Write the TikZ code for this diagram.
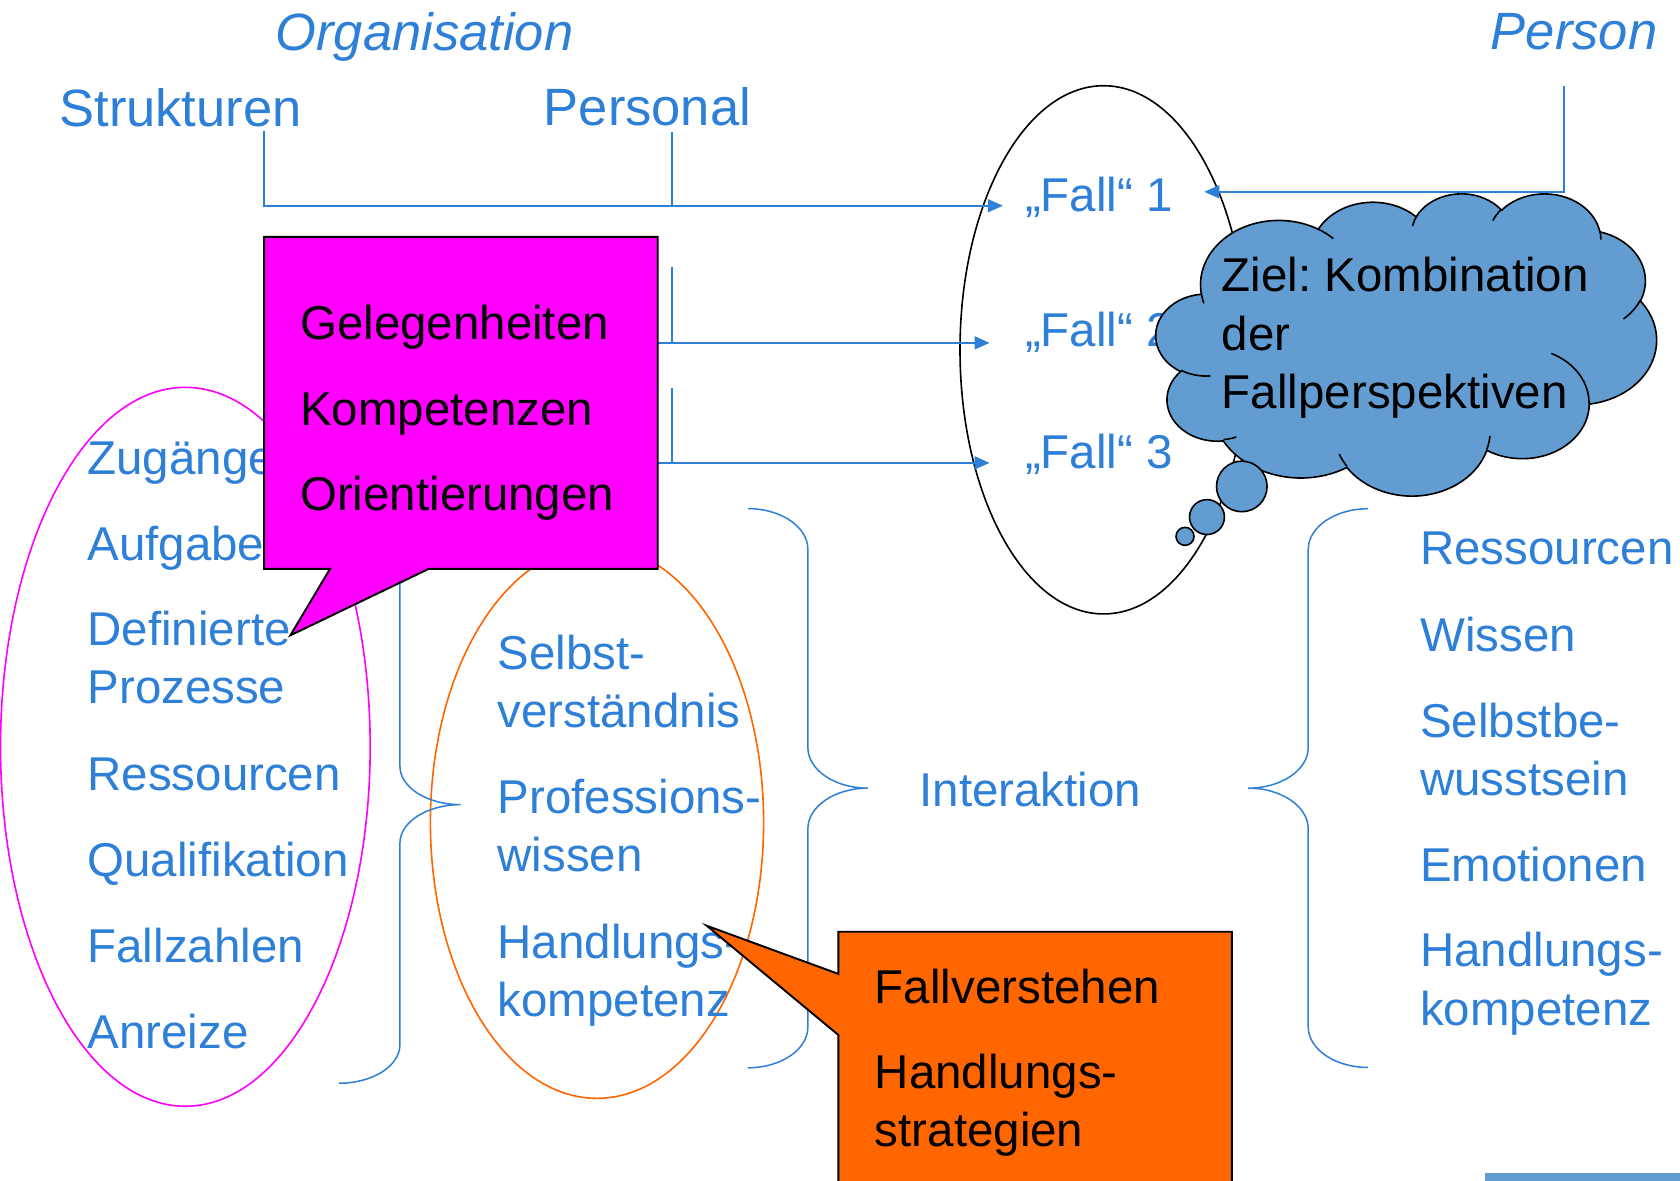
\documentclass[tikz,border=0pt]{standalone}
\usepackage{fontspec}
\setmainfont{Liberation Sans}
\usetikzlibrary{arrows.meta}
\frenchspacing
\definecolor{tblue}{RGB}{45,127,215}
\definecolor{cblue}{RGB}{98,156,208}
\definecolor{morange}{RGB}{255,102,0}
\definecolor{mmag}{RGB}{255,0,255}
\newcommand\ooarc[4]{arc[x radius=#1, y radius=#2, start angle={pa(#1,#2,#3)}, end angle={pa(#1,#2,#3+#4)+360*(pa(#1,#2,#3+#4)<pa(#1,#2,#3))}]}
\begin{document}
\begin{tikzpicture}[x=1pt,y=-1pt,
  declare function={pa(\ra,\rb,\ang)=atan2(\ra*sin(\ang),\rb*cos(\ang));},
  lbl/.style={anchor=base west, inner sep=0pt, text=tblue, align=left, font=\fontsize{44.3}{54.4}\selectfont},
  head/.style={anchor=base west, inner sep=0pt, text=tblue, font=\fontsize{49}{59}\selectfont},
  blk/.style={lbl, text=black},
  conn/.style={draw=tblue, line width=1.8pt},
  arr/.style={conn, -{Triangle[length=14pt,width=12pt]}},
  brc/.style={draw=tblue, line width=1.4pt},
  outl/.style={line width=1.5pt},
  callout/.style={draw=black, line width=1.8pt, line join=miter}
]
\useasboundingbox (0,0) rectangle (1568,1102);
\fill[white] (0,0) rectangle (1568,1102);

% ---------- ellipses
\draw[mmag, outl] (173,697) ellipse[x radius=172.5, y radius=335.5];
\draw[morange, outl] (557.2,767.5) ellipse[x radius=155.5, y radius=257.6];
\draw[black, outl] (1030,326.5) ellipse[x radius=134, y radius=246.5];

% ---------- headings
\node[head, font=\fontsize{49}{59}\selectfont\itshape] (org) at (257,47) {Organisation};
\node[head, anchor=base east, font=\fontsize{49}{59}\selectfont\itshape] (person) at (1547,46) {Person};
\node[head] (strukturen) at (55.3,118.2) {Strukturen};
\node[head] (personal) at (507.4,117.6) {Personal};

% ---------- Fall nodes
\node[lbl] (f1) at (956.5,197.6) {„Fall“ 1};
\node[lbl] (f2) at (956.5,323.6) {„Fall“ 2};
\node[lbl] (f3) at (956.5,437) {„Fall“ 3};

% ---------- connectors
\coordinate (sA) at (246.5,122);
\coordinate (sB) at (246.5,192);
\coordinate (pA) at (627.4,123);
\coordinate (pB) at (627.4,192);
\coordinate (f1in) at (936,192);
\draw[arr] (sA) -- (sB) -- (f1in);
\draw[conn] (pA) -- (pB);

\coordinate (k2a) at (627.4,249);
\coordinate (k2b) at (627.4,320);
\coordinate (k2c) at (500,320);
\coordinate (f2in) at (923.6,320);
\draw[conn] (k2a) -- (k2b);
\draw[arr] (k2c) -- (f2in);

\coordinate (k3a) at (627.4,362);
\coordinate (k3b) at (627.4,432);
\coordinate (k3c) at (500,432);
\coordinate (f3in) at (923.6,432);
\draw[conn] (k3a) -- (k3b);
\draw[arr] (k3c) -- (f3in);

\coordinate (q1) at (1460,80);
\coordinate (q2) at (1460,179);
\coordinate (f1r) at (1124,179);
\draw[arr] (q1) -- (q2) -- (f1r);

% ---------- left list (multi-line nodes: base = last line)
\node[lbl] (zug) at (81.5,443.3) {Zugänge};
\node[lbl] (auf) at (81.5,522.7) {Aufgaben};
\node[lbl] (def) at (81.5,656.4) {Definierte\\Prozesse};
\node[lbl] (res1) at (81.5,737.5) {Ressourcen};
\node[lbl] (qua) at (81.5,818) {Qualifikation};
\node[lbl] (fz) at (81.5,898.5) {Fallzahlen};
\node[lbl] (anr) at (81.5,979) {Anreize};

% ---------- middle list
\node[lbl] (sv) at (464.3,679.3) {Selbst-\\verständnis};
\node[lbl] (pw) at (464.3,813.7) {Professions-\\wissen};
\node[lbl] (hk1) at (464.3,948.9) {Handlungs-\\kompetenz};

\node[lbl] (int) at (858,753) {Interaktion};

% ---------- right list
\node[lbl] (res2) at (1325.3,527.3) {Ressourcen};
\node[lbl] (wis) at (1325.3,607.6) {Wissen};
\node[lbl] (sbb) at (1325.3,742.7) {Selbstbe-\\wusstsein};
\node[lbl] (emo) at (1325.3,823) {Emotionen};
\node[lbl] (hk2) at (1325.3,956.7) {Handlungs-\\kompetenz};

% ---------- braces
% left "}"
\draw[brc] (316.5,491) arc[start angle=-90, end angle=0, x radius=56.75, y radius=36]
  -- (373.25,715) arc[start angle=180, end angle=90, x radius=56.75, y radius=36]
  arc[start angle=270, end angle=180, x radius=56.75, y radius=36]
  -- (373.25,975) arc[start angle=0, end angle=90, x radius=56.75, y radius=36];
% middle "}"
\draw[brc] (698,474.7) arc[start angle=-90, end angle=0, x radius=56, y radius=38]
  -- (754,697.6) arc[start angle=180, end angle=90, x radius=56, y radius=38]
  arc[start angle=270, end angle=180, x radius=56, y radius=38]
  -- (754,958.6) arc[start angle=0, end angle=90, x radius=56, y radius=38];
% right "{"
\draw[brc] (1277,474.8) arc[start angle=270, end angle=180, x radius=56, y radius=38]
  -- (1221,697.6) arc[start angle=0, end angle=90, x radius=56, y radius=38]
  arc[start angle=-90, end angle=0, x radius=56, y radius=38]
  -- (1221,958.3) arc[start angle=180, end angle=90, x radius=56, y radius=38];

% ---------- magenta callout
\filldraw[fill=mmag, callout] (246.5,221) -- (613.9,221) -- (613.9,531) -- (400,531)
  -- (271,593) -- (308,531) -- (246.5,531) -- cycle;
\node[blk] (gel) at (280,317) {Gelegenheiten};
\node[blk] (kom) at (280,396.7) {Kompetenzen};
\node[blk] (ori) at (280,476) {Orientierungen};

% ---------- cloud callout
\begin{scope}[shift={(1079,180)}, x=1.081pt, y=-0.6528pt]
  \filldraw[fill=cblue, draw=black, outl] (39.00,143.70)
    \ooarc{67.53}{91.90}{-190.4875}{123.7805}
    \ooarc{53.33}{72.67}{-144.1024}{89.9452}
    \ooarc{43.65}{59.45}{-145.8079}{99.7230}
    \ooarc{48.57}{65.95}{-130.9861}{117.2417}
    \ooarc{53.33}{72.73}{-78.7089}{109.0269}
    \ooarc{67.75}{92.20}{-46.2673}{130.2690}
    \ooarc{57.85}{78.67}{0.6250}{114.0333}
    \ooarc{67.52}{92.15}{22.4516}{115.1726}
    \ooarc{77.20}{105.43}{66.2426}{75.7110}
    \ooarc{43.60}{59.18}{-274.9421}{146.7356}
    \ooarc{43.45}{59.45}{-246.8285}{152.5189}
    -- cycle;
  \draw[black, outl]
    (46.93,261.77) \ooarc{43.45}{59.45}{86.742}{26.4295}
    (69.28,348.99) \ooarc{43.60}{59.18}{73.6105}{11.4475}
    (164.78,390.90) \ooarc{67.52}{92.15}{137.6242}{14.0811}
    (288.27,347.51) \ooarc{67.52}{92.15}{6.4533}{15.9984}
    (341.29,229.54) \ooarc{57.85}{78.67}{-70.2924}{70.9174}
    (417.98,153.54) \ooarc{53.33}{72.73}{30.3180}{27.7515}
    (383.24,54.26) \ooarc{48.57}{65.95}{-13.7443}{14.8589}
    (290.78,39.52) \ooarc{48.57}{65.95}{-149.1815}{18.1954}
    (221.41,47.20) \ooarc{43.65}{59.45}{-163.4943}{17.6864}
    (140.00,51.92) \ooarc{67.53}{91.90}{-66.7070}{12.3194}
    (41.27,157.89) \ooarc{67.53}{91.90}{157.6544}{11.8582};
\end{scope}
\filldraw[fill=cblue, draw=black, outl] (1159,454) circle[radius=23.6];
\filldraw[fill=cblue, draw=black, outl] (1126.5,482.6) circle[radius=16.3];
\filldraw[fill=cblue, draw=black, outl] (1106,500.6) circle[radius=8.4];
\node[blk] (ziel) at (1140.3,381.1) {Ziel: Kombination\\der\\Fallperspektiven};

% ---------- orange callout
\filldraw[fill=morange, callout] (782.5,869.6) -- (1149.7,869.6) -- (1149.7,1115) -- (782.5,1115)
  -- (782.5,966) -- (659.6,864) -- (782.5,909) -- cycle;
\node[blk] (fv) at (816.4,936.5) {Fallverstehen};
\node[blk] (hs) at (816.4,1070.3) {Handlungs-\\strategien};

% ---------- bar
\fill[cblue] (1386,1095) rectangle (1568,1102);
\end{tikzpicture}
\end{document}
